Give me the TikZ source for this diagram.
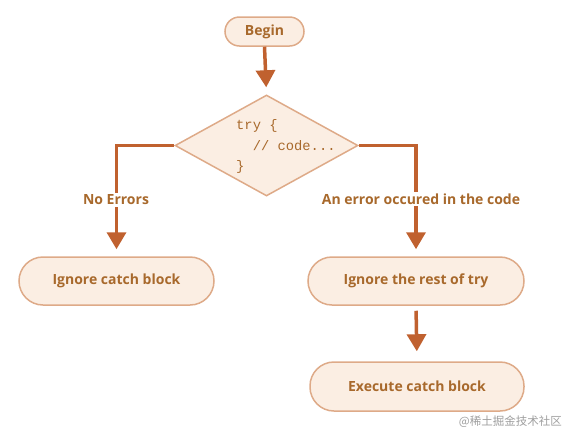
\documentclass[tikz,border=0pt]{standalone}
\usepackage{fontspec}
\setmainfont{Open Sans}
\setmonofont{Liberation Mono}
\newfontfamily\cjk{Noto Sans CJK SC}
\usetikzlibrary{shapes.geometric,arrows.meta}
\definecolor{fillc}{HTML}{FBEEE3}
\definecolor{bordc}{HTML}{DEAA88}
\definecolor{arrc}{HTML}{C0612F}
\definecolor{txtc}{HTML}{A8692C}
\begin{document}
\begin{tikzpicture}[x=1pt,y=-1pt,
  pill/.style={draw=bordc, fill=fillc, line width=1.5pt, inner sep=0pt,
    text=txtc, font=\fontsize{14}{16}\selectfont\bfseries},
  lbl/.style={fill=white, text=txtc, inner sep=2pt, font=\fontsize{14}{16}\selectfont\bfseries},
  arr/.style={draw=arrc, line width=3.5pt, -{Triangle[width=19pt,length=17pt]}},
  decision/.style={diamond, draw=bordc, fill=fillc, line width=1.5pt, inner sep=0pt,
    minimum width=183pt, minimum height=101pt}]
\useasboundingbox (0,0) rectangle (566,432);
\node[pill, rounded corners=14.5pt, minimum width=79pt, minimum height=29pt] (begin) at (264.5,31.5) {Begin};
\node[decision] (dia) at (266.5,145.5) {};
\node[text=txtc, font=\fontsize{13.8}{20.5}\selectfont\ttfamily, align=left, anchor=west, inner sep=0pt] (code) at (236,146.5)
  {try \{\\\ \ // code...\\\}};
\node[pill, rounded corners=24pt, minimum width=195pt, minimum height=48pt] (lbox) at (116.5,281) {Ignore catch block};
\node[pill, rounded corners=24pt, minimum width=216pt, minimum height=48pt] (rbox) at (416,281) {Ignore the rest of try};
\node[pill, rounded corners=24pt, minimum width=214pt, minimum height=49pt] (bbox) at (417,386.5) {Execute catch block};
\draw[arr, shorten >=7pt] (begin.south) -- (dia.north);
\draw[arr, shorten >=7pt] (dia.west) -| (lbox.north);
\draw[arr, shorten >=7pt] (dia.east) -| (rbox.north);
\draw[arr, shorten <=5pt, shorten >=10pt] (rbox.south) -- (bbox.north);
\node[lbl] (noerr) at (116,200) {No Errors};
\node[lbl] (err) at (421,199) {An error occured in the code};
\node[text=black!38, font=\cjk\fontsize{11.5}{13}\selectfont, anchor=east, inner sep=0pt] (wm) at (562,422) {@稀土掘金技术社区};
\end{tikzpicture}
\end{document}
